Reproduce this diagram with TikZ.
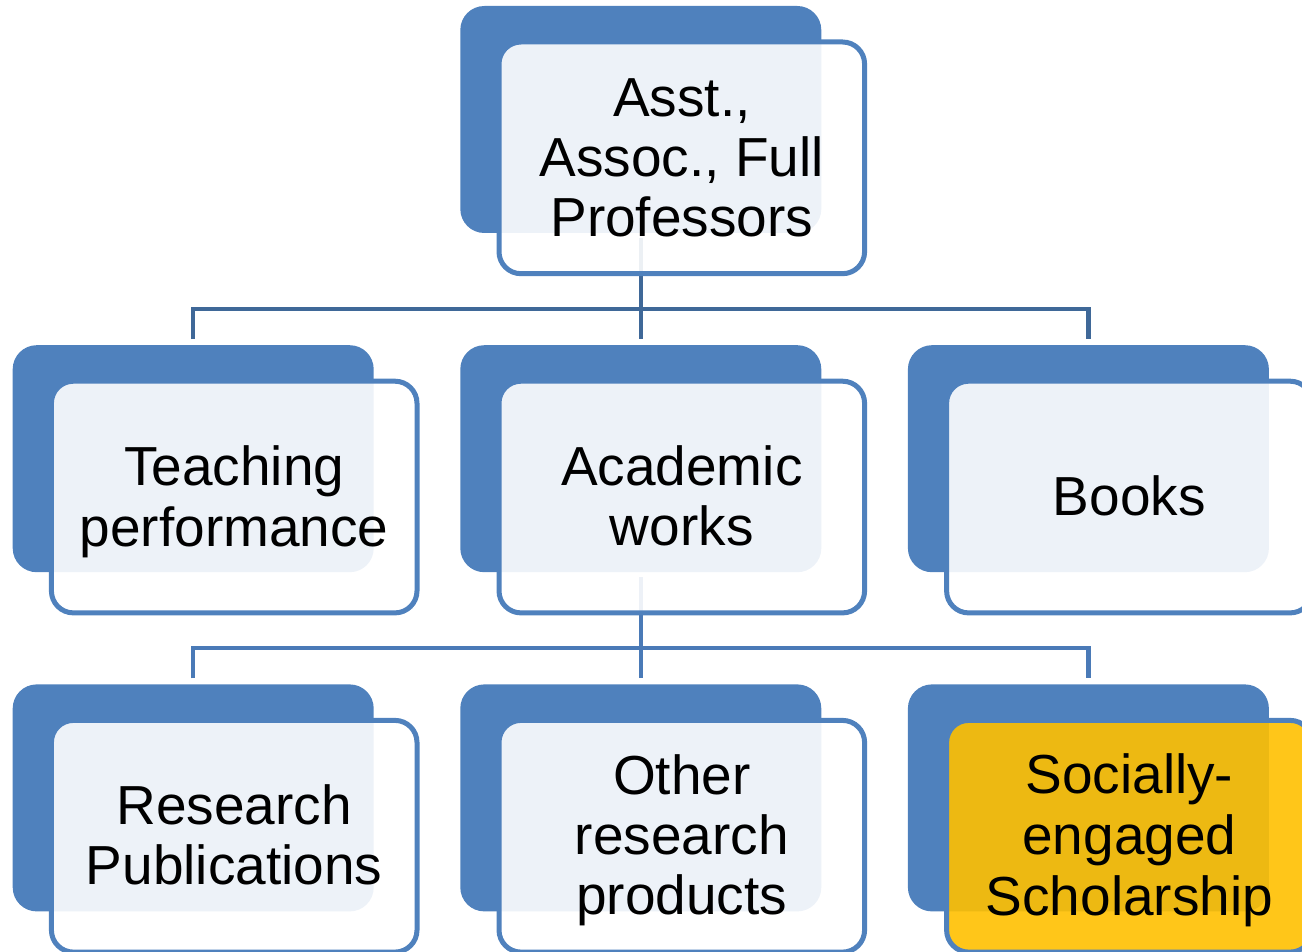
\documentclass[tikz,border=0pt]{standalone}
\usepackage{fontspec}
\setmainfont{Liberation Sans}
\definecolor{sablue}{HTML}{4F81BD}
\definecolor{connA}{HTML}{3F6898}
\definecolor{connB}{HTML}{4A7AB7}
\definecolor{sayellow}{HTML}{FFC000}
\newcommand{\ts}{\rule[-11.4pt]{0pt}{60pt}}
\begin{document}
\begin{tikzpicture}[x=1pt,y=-1pt,
  backbox/.style={draw=none, fill=sablue, rounded corners=24pt,
    minimum width=361pt, minimum height=227pt, inner sep=0pt, outer sep=0pt},
  frontbox/.style={draw=sablue, line width=5pt, fill=white, fill opacity=0.9,
    text opacity=1, rounded corners=22pt, minimum width=365.6pt,
    minimum height=231.7pt, inner sep=0pt, outer sep=0pt, align=center,
    font=\fontsize{55}{60}\selectfont},
  conn/.style={line width=4.5pt, draw=#1}
]
\useasboundingbox (0,0) rectangle (1302,952);
\clip (0,0) rectangle (1302,952);

% junction points
\coordinate (j1) at (640.8,309);
\coordinate (j2) at (640.8,648);

% back boxes
\node[backbox] (b1) at (640.8,119.5) {};
\node[backbox] (b2) at (193.2,458.7) {};
\node[backbox] (b3) at (640.8,458.7) {};
\node[backbox] (b4) at (1088.4,458.7) {};
\node[backbox] (b5) at (193.2,797.9) {};
\node[backbox] (b6) at (640.8,797.9) {};
\node[backbox] (b7) at (1088.4,797.9) {};

% connectors (drawn beneath back boxes visually: back boxes are opaque)
\begin{scope}[on background layer/.try]
\end{scope}
\draw[conn=connA] ([yshift=-5pt]b1.south) -- ([yshift=6pt]b3.north);
\draw[conn=connA] ([yshift=6pt]b2.north) |- (j1) -| ([yshift=6pt]b4.north);
\draw[conn=connB] ([yshift=-5pt]b3.south) -- ([yshift=6pt]b6.north);
\draw[conn=connB] ([yshift=6pt]b5.north) |- (j2) -| ([yshift=6pt]b7.north);

% front boxes with text
\node[frontbox] (f1) at (681.8,157.85) {\ts Asst.,\\\ts Assoc., Full\\\ts Professors};
\node[frontbox] (f2) at (234.2,497.05) {\ts Teaching\\\ts performance};
\node[frontbox] (f3) at (681.8,497.05) {\ts Academic\\\ts works};
\node[frontbox] (f4) at (1129.4,497.05) {\ts Books};
\node[frontbox] (f5) at (234.2,836.25) {\ts Research\\\ts Publications};
\node[frontbox] (f6) at (681.8,836.25) {\ts Other\\\ts research\\\ts products};
\node[frontbox, fill=sayellow] (f7) at (1129.4,836.25) {\ts Socially-\\\ts engaged\\\ts Scholarship};
\end{tikzpicture}
\end{document}
